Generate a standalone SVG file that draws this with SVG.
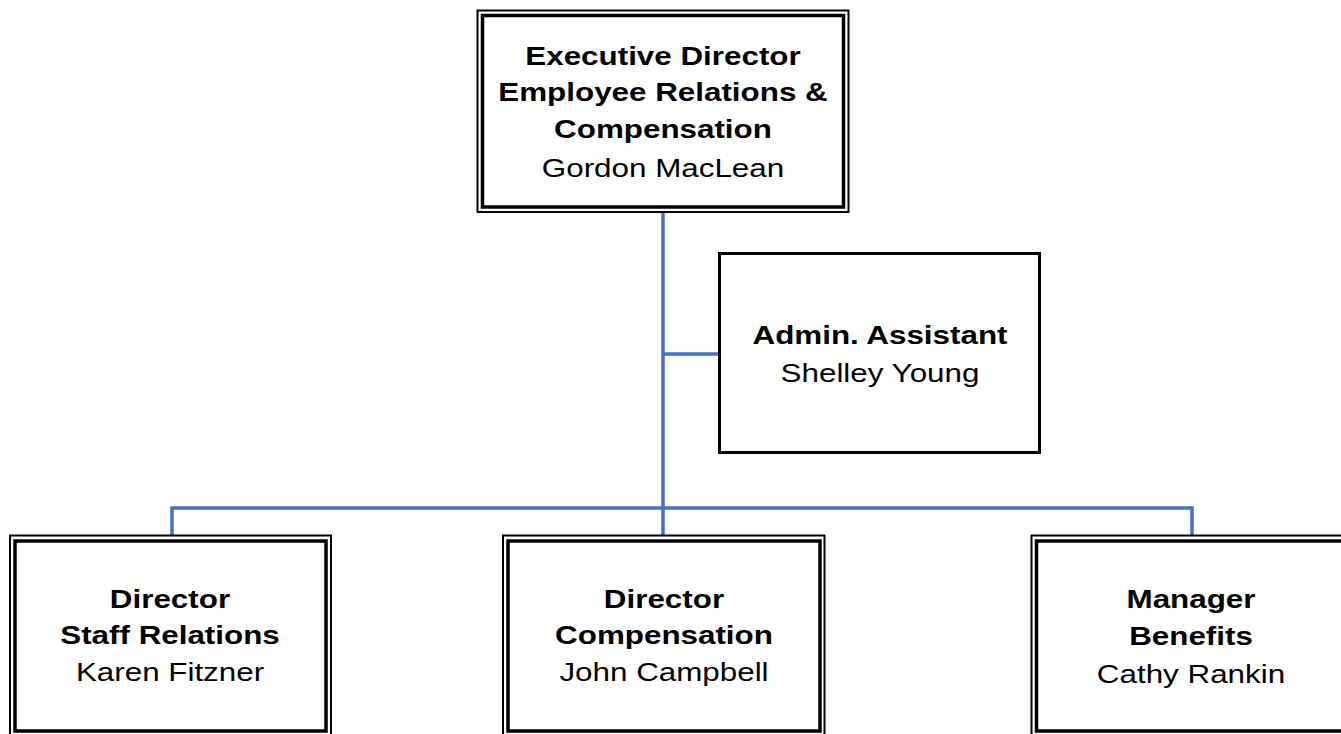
<svg xmlns="http://www.w3.org/2000/svg" width="1341" height="734" viewBox="0 0 1341 734">
<style>
.o{fill:none;stroke:#000;stroke-width:2}
.i{fill:none;stroke:#000;stroke-width:3.5}
.s{fill:#fff;stroke:#000;stroke-width:3}
.c{fill:none;stroke:#4472C4;stroke-width:3.5}
text{font-family:"Liberation Sans",Arial,sans-serif;font-size:25.5px;text-anchor:middle;fill:#000}
.b{font-weight:bold}
</style>
<rect width="1341" height="734" fill="#fff"/>
<g id="connectors">
<path class="c" d="M663 212V536"/>
<path class="c" d="M663 354H720"/>
<path class="c" d="M172 536V508H1192V536"/>
</g>
<g id="n-exec">
<rect class="o" x="477.5" y="10.5" width="371" height="201.5"/>
<rect class="i" x="482.5" y="15.5" width="361" height="191.5"/>
<text class="b" transform="translate(663 65) scale(1.23 1)">Executive Director</text>
<text class="b" transform="translate(663 101) scale(1.23 1)">Employee Relations &amp;</text>
<text class="b" transform="translate(663 138) scale(1.23 1)">Compensation</text>
<text transform="translate(663 177) scale(1.23 1)">Gordon MacLean</text>
</g>
<g id="n-admin">
<rect class="s" x="719.5" y="253.5" width="320" height="199"/>
<text class="b" transform="translate(880 344) scale(1.23 1)">Admin. Assistant</text>
<text transform="translate(880 382) scale(1.23 1)">Shelley Young</text>
</g>
<g id="n-staff">
<rect class="o" x="10" y="535.5" width="321" height="202"/>
<rect class="i" x="15" y="541" width="311" height="190"/>
<text class="b" transform="translate(170 608) scale(1.23 1)">Director</text>
<text class="b" transform="translate(170 644) scale(1.23 1)">Staff Relations</text>
<text transform="translate(170 681) scale(1.23 1)">Karen Fitzner</text>
</g>
<g id="n-comp">
<rect class="o" x="503" y="535.5" width="321.5" height="202"/>
<rect class="i" x="508" y="541" width="312" height="190"/>
<text class="b" transform="translate(664 608) scale(1.23 1)">Director</text>
<text class="b" transform="translate(664 644) scale(1.23 1)">Compensation</text>
<text transform="translate(664 681) scale(1.23 1)">John Campbell</text>
</g>
<g id="n-benefits">
<rect class="o" x="1031.5" y="535.5" width="321" height="202"/>
<rect class="i" x="1036.5" y="541" width="311" height="190"/>
<text class="b" transform="translate(1191 608) scale(1.23 1)">Manager</text>
<text class="b" transform="translate(1191 645) scale(1.23 1)">Benefits</text>
<text transform="translate(1191 683) scale(1.23 1)">Cathy Rankin</text>
</g>
</svg>
